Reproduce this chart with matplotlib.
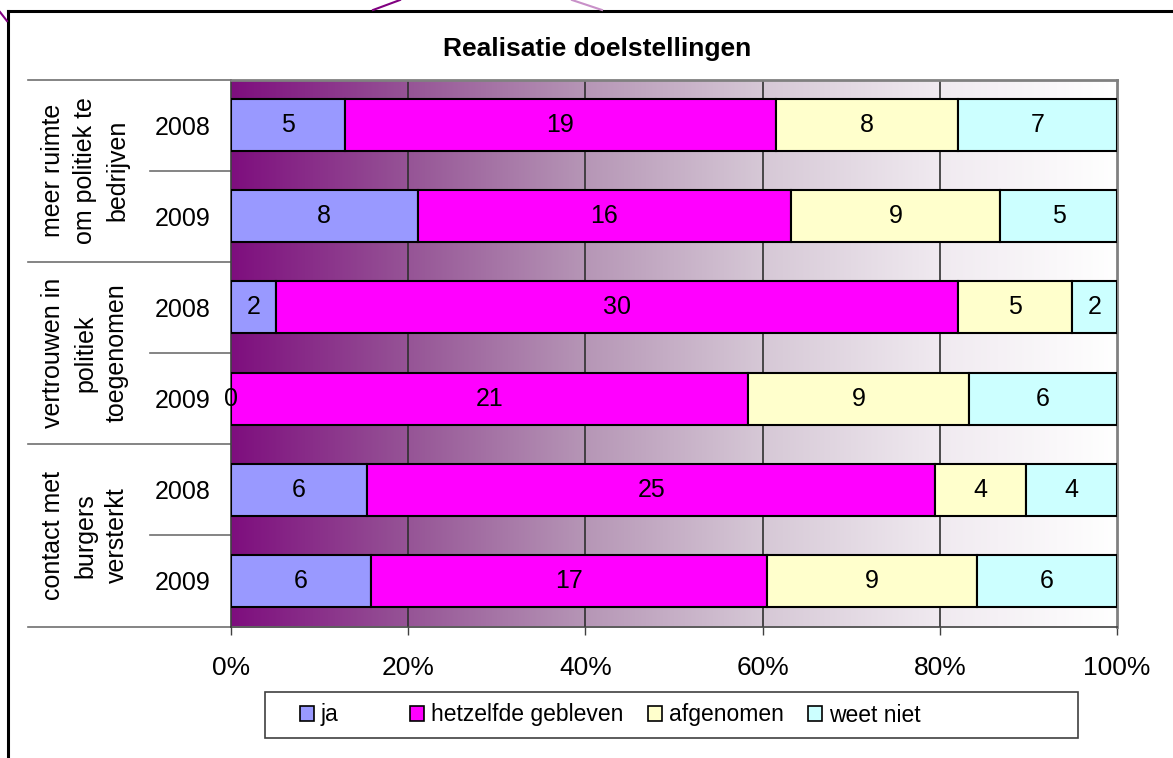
import numpy as np
import matplotlib
matplotlib.use("Agg")
import matplotlib.pyplot as plt
from matplotlib.patches import Patch, Rectangle
from matplotlib.lines import Line2D
import matplotlib.transforms as mtransforms

plt.rcParams['font.family'] = ['Liberation Sans', 'DejaVu Sans']

# ---- data ----
groups = ["meer ruimte\nom politiek te\nbedrijven",
          "vertrouwen in\npolitiek\ntoegenomen",
          "contact met\nburgers\nversterkt"]
years = ["2008", "2009", "2008", "2009", "2008", "2009"]
series = ["ja", "hetzelfde gebleven", "afgenomen", "weet niet"]
ja = [5, 8, 2, 0, 6, 6]
hetzelfde = [19, 16, 30, 21, 25, 17]
afgenomen = [8, 9, 5, 9, 4, 9]
weet_niet = [7, 5, 2, 6, 4, 6]
colors = ["#9999FF", "#FF00FF", "#FFFFCC", "#CCFFFF"]
title = "Realisatie doelstellingen"
xtick_vals = [0, 20, 40, 60, 80, 100]

W, H = 1173, 758
fig = plt.figure(figsize=(W / 100, H / 100), dpi=100)
fig.patch.set_facecolor("white")

ax_l, ax_r, ax_t, ax_b = 231, 1117, 79.5, 626.5
ax = fig.add_axes([ax_l / W, 1 - ax_b / H, (ax_r - ax_l) / W, (ax_b - ax_t) / H])

# gradient background
stops = np.array([0, 0.2, 0.4, 0.6, 0.8, 1.0])
rs = np.array([126, 150, 182, 214, 240, 255])
gs = np.array([14, 84, 150, 200, 234, 255])
xs = np.linspace(0, 1, 600)
r = np.interp(xs, stops, rs)
g = np.interp(xs, stops, gs)
grad = np.stack([r, g, r], axis=-1)[None, :, :] / 255.0
ax.imshow(grad, extent=[0, 1, 0, 1], transform=ax.transAxes, aspect="auto",
          zorder=0, interpolation="bilinear")

data = np.array([ja, hetzelfde, afgenomen, weet_niet], dtype=float)
totals = data.sum(axis=0)
pct = data / totals * 100
ypos = np.arange(len(years))
left = np.zeros(len(years))
for i, name in enumerate(series):
    ax.barh(ypos, pct[i], left=left, height=0.57, color=colors[i],
            edgecolor="black", linewidth=1.5, zorder=3, label=name)
    for j in range(len(years)):
        ax.text(left[j] + pct[i][j] / 2, ypos[j], f"{int(data[i][j])}",
                ha="center", va="center", fontsize=18, color="black", zorder=5)
    left += pct[i]

ax.set_xlim(0, 100)
ax.set_ylim(len(years) - 0.5, -0.5)
ax.set_xticks(xtick_vals)
ax.set_xticklabels([f"{v}%" for v in xtick_vals], fontsize=19)
ax.set_yticks(ypos)
ax.set_yticklabels(years, fontsize=18)
ax.tick_params(axis="y", length=0, pad=15)
ax.tick_params(axis="x", length=6, width=1, color="#404040", pad=15, direction="out")
for xv in xtick_vals[1:-1]:
    ax.axvline(xv, color="#303030", linewidth=1.2, zorder=1)

for sp in ["top", "right"]:
    ax.spines[sp].set_color("#808080")
    ax.spines[sp].set_linewidth(2)
for sp in ["left", "bottom"]:
    ax.spines[sp].set_color("#404040")
    ax.spines[sp].set_linewidth(1.2)

# separators in the label area
blend = mtransforms.blended_transform_factory(ax.transAxes, ax.transData)
x_long = (28 - ax_l) / (ax_r - ax_l)
x_short = (150 - ax_l) / (ax_r - ax_l)
for k in range(len(years) + 1):
    yb = k - 0.5
    xs0 = x_long if k % 2 == 0 else x_short
    ax.plot([xs0, 0], [yb, yb], color="#707070", linewidth=1.2,
            transform=blend, clip_on=False, zorder=2)

x_grp = (85 - ax_l) / (ax_r - ax_l)
for gi, gname in enumerate(groups):
    ax.text(x_grp, 2 * gi + 0.5, gname, rotation=90, ha="center", va="center",
            multialignment="center", fontsize=18, linespacing=1.42,
            transform=blend)

fig.text(597 / W, 1 - 49 / H, title, ha="center", va="center",
         fontsize=19, fontweight="bold")

# legend: frame drawn separately, one entry per slot
fig.add_artist(Rectangle((265 / W, 1 - 738 / H), (1078 - 265) / W, 46 / H,
                         transform=fig.transFigure, facecolor="white",
                         edgecolor="#404040", linewidth=1.2, zorder=1))
slot_x = [300, 410, 648, 808]
for c, name, sx in zip(colors, series, slot_x):
    lg = fig.legend([Patch(facecolor=c, edgecolor="black", linewidth=1.2)], [name],
                    loc="center left", bbox_to_anchor=(sx / W, 1 - 715 / H),
                    fontsize=16.5, frameon=False, handlelength=0.6,
                    handleheight=0.6, handletextpad=0.3, borderpad=0.0,
                    borderaxespad=0.0)
    lg.set_zorder(2)

# outer frame and decorative curve
fig.add_artist(Line2D([8 / W, 8 / W], [1 - 11 / H, 0], color="black", linewidth=2.2,
                      transform=fig.transFigure))
fig.add_artist(Line2D([8 / W, 1], [1 - 11 / H, 1 - 11 / H], color="black", linewidth=2.2,
                      transform=fig.transFigure))
fig.add_artist(Line2D([0, 7 / W], [1 - 12 / H, 1 - 21 / H], color="#800080", linewidth=1.5,
                      transform=fig.transFigure))
fig.add_artist(Line2D([373 / W, 400 / W], [1 - 10 / H, 1.0], color="#800080", linewidth=1.5,
                      transform=fig.transFigure))
fig.add_artist(Line2D([572 / W, 602 / W], [1.0, 1 - 10 / H], color="#C890C8", linewidth=1.5,
                      transform=fig.transFigure))

fig.savefig("out.png", dpi=100)
